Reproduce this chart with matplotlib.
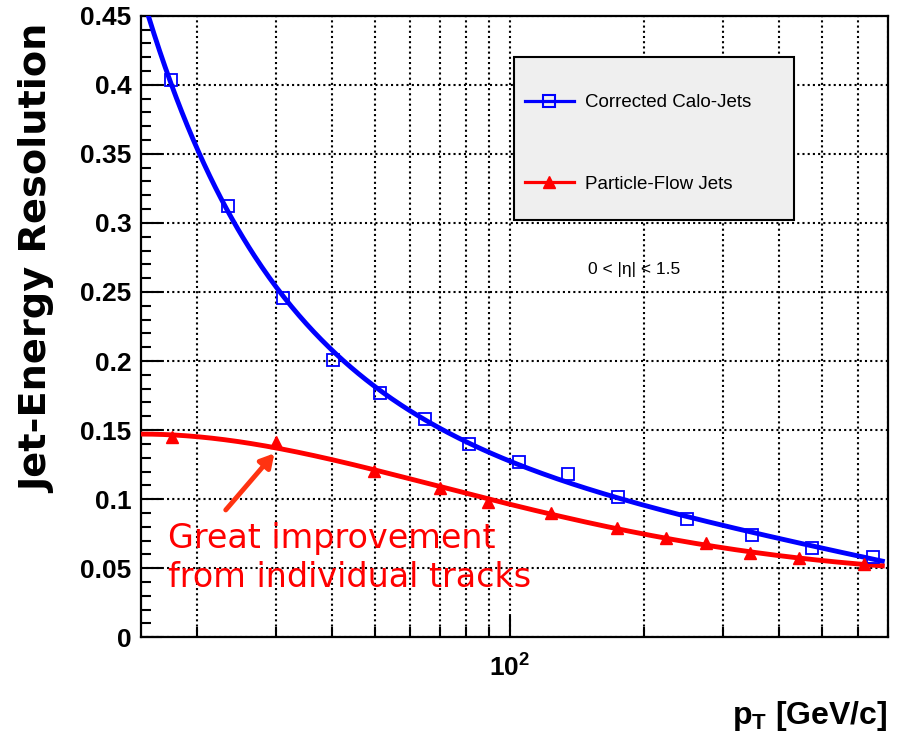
import numpy as np
import matplotlib
matplotlib.use("Agg")
import matplotlib.pyplot as plt
from matplotlib.lines import Line2D
from matplotlib.patches import Rectangle
from matplotlib.ticker import LogLocator, NullFormatter, MultipleLocator, FuncFormatter

plt.rcParams['mathtext.default'] = 'regular'

helv = ['Liberation Sans', 'DejaVu Sans']

# resolution vs pT, barrel region
calo_pt = [17.5, 23.5, 31.1, 40.2, 51.3, 64.7, 81.0, 105.0, 135.0, 175.0, 249.0, 349.0, 475.0, 648.0]
calo_res = [0.4035, 0.3125, 0.2454, 0.2008, 0.1771, 0.1578, 0.1399, 0.1267, 0.1180,
            0.1018, 0.0856, 0.0741, 0.0644, 0.0584]
pf_pt = [17.6, 30.0, 49.7, 69.9, 89.5, 124.0, 173.5, 223.5, 274.6, 345.0, 444.0, 620.0]
pf_res = [0.1448, 0.1415, 0.1204, 0.1079, 0.0982, 0.0902, 0.0789, 0.0717, 0.0685,
          0.0608, 0.0572, 0.0528]

# smooth fits through the points (cubic in log-log)
pt_fit = np.logspace(np.log10(15), np.log10(681), 400)
calo_par = np.polyfit(np.log10(calo_pt), np.log10(calo_res), 3)
calo_fit = 10 ** np.polyval(calo_par, np.log10(pt_fit))
pf_par = np.polyfit(np.log10(pf_pt), np.log10(pf_res), 3)
pf_fit = 10 ** np.polyval(pf_par, np.log10(pt_fit))

fig = plt.figure(figsize=(9.01, 7.44), dpi=100)
ax = fig.add_axes([0.1565, 0.1434, 0.8287, 0.8355])

ax.plot(pt_fit, calo_fit, color="blue", lw=3.5, zorder=3)
ax.plot(calo_pt, calo_res, "s", mfc="none", mec="blue", ms=8, mew=1.3, zorder=4)
ax.plot(pt_fit, pf_fit, color="red", lw=3.5, zorder=3)
ax.plot(pf_pt, pf_res, "^", color="red", ms=8, zorder=4)

ax.set_xscale("log")
ax.set_xlim(15, 700)
ax.set_ylim(0, 0.45)

ax.xaxis.set_major_locator(LogLocator(base=10))
ax.xaxis.set_minor_locator(LogLocator(base=10, subs=np.arange(2, 10)))
ax.xaxis.set_minor_formatter(NullFormatter())
ax.yaxis.set_major_locator(MultipleLocator(0.05))
ax.yaxis.set_minor_locator(MultipleLocator(0.01))
ax.yaxis.set_major_formatter(FuncFormatter(lambda v, p: f"{v:g}"))

ax.tick_params(which="both", direction="in", width=1.5, top=False, right=False)
ax.tick_params(which="major", length=15)
ax.tick_params(which="minor", length=7.5)
ax.tick_params(axis="y", pad=7)
ax.tick_params(axis="x", pad=12)
for lab in ax.get_xticklabels() + ax.get_yticklabels():
    lab.set_family(helv)
    lab.set_fontweight("bold")
    lab.set_fontsize(19)

for sp in ax.spines.values():
    sp.set_linewidth(1.6)

ax.set_axisbelow(True)
ax.grid(which="major", axis="y", color="black", lw=1.5, linestyle=(0, (1, 1.5)))
ax.grid(which="both", axis="x", color="black", lw=1.5, linestyle=(0, (1, 1.5)))

ax.set_ylabel("Jet-Energy Resolution", family="DejaVu Sans", fontweight="bold",
              fontsize=27.5, loc="top")
ax.yaxis.set_label_coords(-0.113, 0.985)
ax.set_xlabel(r"$p_{T}$ [GeV/c]", family=helv, fontweight="bold", fontsize=23, loc="right")
ax.xaxis.set_label_coords(1.0, -0.10)

# legend box drawn separately so it can be taller than its entries
ax.add_patch(Rectangle((0.4995, 0.6713), 0.375, 0.262, transform=ax.transAxes,
                       facecolor="#efefef", edgecolor="black", lw=1.5, zorder=9))
handles = [
    Line2D([], [], color="blue", lw=2.3, marker="s", mfc="none", mec="blue", ms=9, mew=1.5),
    Line2D([], [], color="red", lw=2.3, marker="^", ms=9),
]
leg = ax.legend(handles, ["Corrected Calo-Jets", "Particle-Flow Jets"],
                loc="upper left", bbox_to_anchor=(0.5143, 0.8737),
                prop={"family": helv, "size": 13.5}, frameon=False,
                handlelength=2.6, handletextpad=0.6, labelspacing=3.44,
                borderpad=0, borderaxespad=0)
leg.set_zorder(10)

ax.text(190, 0.266, "0 < |η| < 1.5", family=helv, fontsize=12.5,
        ha="center", va="center")

ax.annotate("", xy=(29.8, 0.1332), xytext=(23.2, 0.0922),
            arrowprops=dict(arrowstyle="-|>,head_length=0.8,head_width=0.45",
                            color="#ff3311", lw=3.5, shrinkA=0, shrinkB=0))
ax.text(0.036, 0.186, "Great improvement\nfrom individual tracks", transform=ax.transAxes,
        color="red", fontsize=24, family="DejaVu Sans", ha="left", va="top",
        linespacing=1.25, zorder=6)

fig.savefig("out.png", dpi=100)
